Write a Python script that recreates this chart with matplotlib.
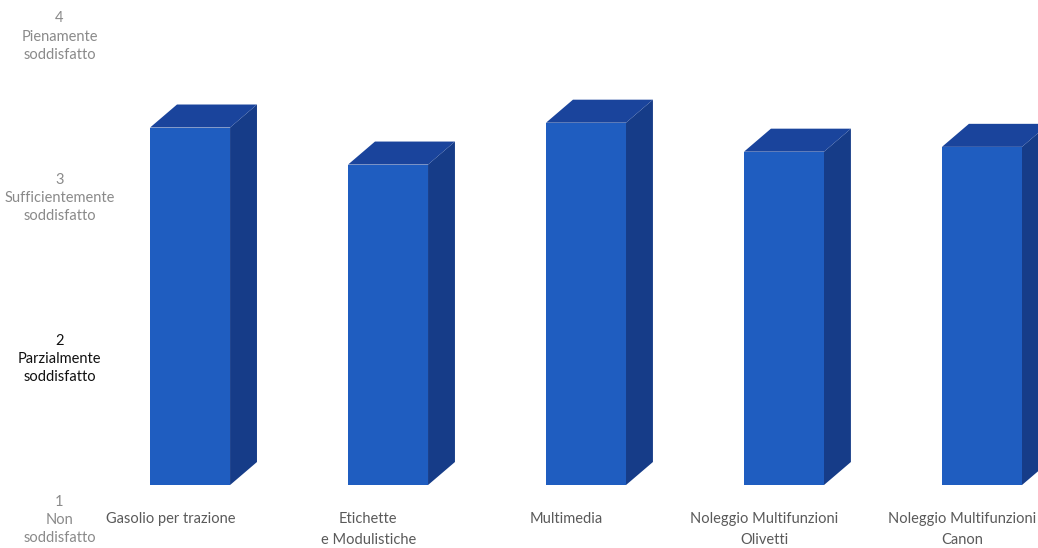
import matplotlib
matplotlib.use('Agg')
import matplotlib.pyplot as plt
from matplotlib.patches import Polygon

# dati
categorie = ['Gasolio per trazione', 'Etichette\ne Modulistiche', 'Multimedia',
             'Noleggio Multifunzioni\nOlivetti', 'Noleggio Multifunzioni\nCanon']
valori = [3.22, 2.99, 3.25, 3.07, 3.10]
livelli = [1, 2, 3, 4]
etichette_livelli = ['1\nNon\nsoddisfatto', '2\nParzialmente\nsoddisfatto',
                     '3\nSufficientemente\nsoddisfatto', '4\nPienamente\nsoddisfatto']
colori_livelli = ['#8a8a8a', '#111111', '#8a8a8a', '#8a8a8a']

#-----------------------------------------------------------------------------
# stile

plt.rcParams['font.family'] = ['Lato', 'DejaVu Sans']
fronte = '#1f5dc0'
sopra = '#1a449c'
lato = '#163c88'
larg = 0.404
dx = 0.136
dy = 0.143
base = 1

fig = plt.figure(figsize=(10.38, 5.48), dpi=100)
ax = fig.add_axes([0, 0, 1, 1])
ax.set_xlim(-0.96, 4.283)
ax.set_ylim(0.609, 4.012)
ax.axis('off')

#-----------------------------------------------------------------------------
# barre 3D

for i, v in enumerate(valori):
    x0 = i - larg / 2
    x1 = i + larg / 2
    ax.add_patch(Polygon([(x1, base), (x1 + dx, base + dy), (x1 + dx, v + dy), (x1, v)],
                         closed=True, facecolor=lato, edgecolor='none'))
    ax.add_patch(Polygon([(x0, v), (x1, v), (x1 + dx, v + dy), (x0 + dx, v + dy)],
                         closed=True, facecolor=sopra, edgecolor='none'))
    ax.bar(i, v - base, bottom=base, width=larg, color=fronte, edgecolor='none')
    ax.text(i - 0.1, 0.832, categorie[i], ha='center', va='top', fontsize=10.5,
            color='#5a5a5a', linespacing=1.65)

#-----------------------------------------------------------------------------
# etichette asse y

for l, t, c in zip(livelli, etichette_livelli, colori_livelli):
    ax.text(-0.66, l - 0.217, t, ha='center', va='center', fontsize=10.5,
            color=c, linespacing=1.4)

plt.savefig('out.png', dpi=100)
